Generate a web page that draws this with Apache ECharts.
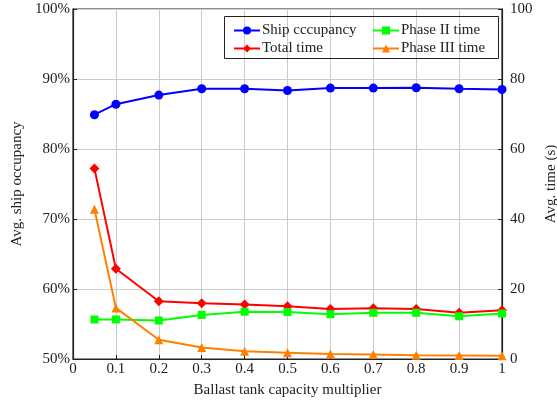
<!DOCTYPE html>
<html>
<head>
<meta charset="utf-8">
<script src="https://cdn.jsdelivr.net/npm/echarts@6/dist/echarts.min.js"></script>
<style>
  html, body { margin: 0; padding: 0; background: #fff; }
  #chart { width: 557px; height: 403px; }
</style>
</head>
<body>
<div id="chart"></div>
<script>
// Ballast tank capacity multipliers (x values)
const multipliers = [0.05, 0.1, 0.2, 0.3, 0.4, 0.5, 0.6, 0.7, 0.8, 0.9, 1.0];
// Average ship occupancy (%) – left axis
const shipOccupancy = [84.9, 86.4, 87.7, 88.6, 88.6, 88.35, 88.7, 88.7, 88.75, 88.6, 88.5];
// Average times (s) – right axis
const totalTime = [54.4, 25.8, 16.5, 15.9, 15.6, 15.1, 14.3, 14.5, 14.3, 13.2, 13.9];
const phase2Time = [11.3, 11.3, 11.0, 12.6, 13.5, 13.4, 12.8, 13.2, 13.2, 12.2, 13.0];
const phase3Time = [42.8, 14.6, 5.5, 3.3, 2.2, 1.8, 1.4, 1.3, 1.1, 1.0, 0.9];

const FONT = 'Liberation Serif';
const FS = 15;
const INK = '#222';
const pairs = arr => multipliers.map((x, i) => [x, arr[i]]);

const chart = echarts.init(document.getElementById('chart'), null, { renderer: 'canvas' });

const lineSeries = (name, data, color, symbol, size, yIndex) => ({
  name, type: 'line', yAxisIndex: yIndex, data: pairs(data),
  symbol, symbolSize: size, showSymbol: true,
  lineStyle: { color, width: 2 }, itemStyle: { color },
  animation: false, z: 3
});

const axisCommon = {
  axisLine: { show: true, onZero: false, lineStyle: { color: INK, width: 1.2 } },
  axisTick: { show: true, inside: true, length: 4, lineStyle: { color: INK } },
  nameTextStyle: { fontFamily: FONT, fontSize: FS, color: INK }
};

chart.setOption({
  animation: false,
  textStyle: { fontFamily: FONT },
  grid: {
    left: 73, right: 55, top: 9, bottom: 44,
    outerBoundsMode: 'none', containLabel: false,
    show: true, borderColor: INK, borderWidth: 1.2, backgroundColor: 'transparent'
  },
  xAxis: Object.assign({}, axisCommon, {
    type: 'value', min: 0, max: 1, interval: 0.1,
    name: 'Ballast tank capacity multiplier', nameLocation: 'middle', nameGap: 24,
    axisLabel: { fontFamily: FONT, fontSize: FS, color: INK, margin: 3,
      formatter: v => String(Math.round(v * 10) / 10) },
    splitLine: { show: true, lineStyle: { color: '#cccccc', width: 1 } }
  }),
  yAxis: [
    Object.assign({}, axisCommon, {
      type: 'value', min: 50, max: 100, interval: 10, position: 'left',
      name: 'Avg. ship occupancy', nameLocation: 'middle', nameGap: 48, nameRotate: 90,
      axisLabel: { fontFamily: FONT, fontSize: FS, color: INK, margin: 3, formatter: '{value}%' },
      splitLine: { show: true, lineStyle: { color: '#cccccc', width: 1 } }
    }),
    Object.assign({}, axisCommon, {
      type: 'value', min: 0, max: 100, interval: 20, position: 'right',
      name: 'Avg. time (s)', nameLocation: 'middle', nameGap: 40, nameRotate: 90,
      axisLabel: { fontFamily: FONT, fontSize: FS, color: INK, margin: 8 },
      splitLine: { show: false }
    })
  ],
  legend: [
    {
      left: 228, top: 18, orient: 'vertical', itemGap: 3, itemWidth: 26, itemHeight: 10,
      textStyle: { fontFamily: FONT, fontSize: FS, color: INK, padding: [0, 0, 0, -3] },
      data: ['Ship cccupancy', 'Total time']
    },
    {
      left: 367, top: 18, orient: 'vertical', itemGap: 3, itemWidth: 26, itemHeight: 10,
      textStyle: { fontFamily: FONT, fontSize: FS, color: INK, padding: [0, 0, 0, -3] },
      data: ['Phase II time', 'Phase III time']
    }
  ],
  graphic: [{
    type: 'rect', left: 224, top: 16, z: 10, silent: true,
    shape: { width: 274, height: 42 },
    style: { fill: 'rgba(255,255,255,0)', stroke: INK, lineWidth: 1 }
  }],
  series: [
    lineSeries('Ship cccupancy', shipOccupancy, '#0000ff', 'circle', 9, 0),
    lineSeries('Total time', totalTime, '#ff0000', 'diamond', 10, 1),
    lineSeries('Phase II time', phase2Time, '#00ff00', 'rect', 8, 1),
    lineSeries('Phase III time', phase3Time, '#ff8000', 'triangle', 9, 1)
  ]
});
</script>
</body>
</html>
